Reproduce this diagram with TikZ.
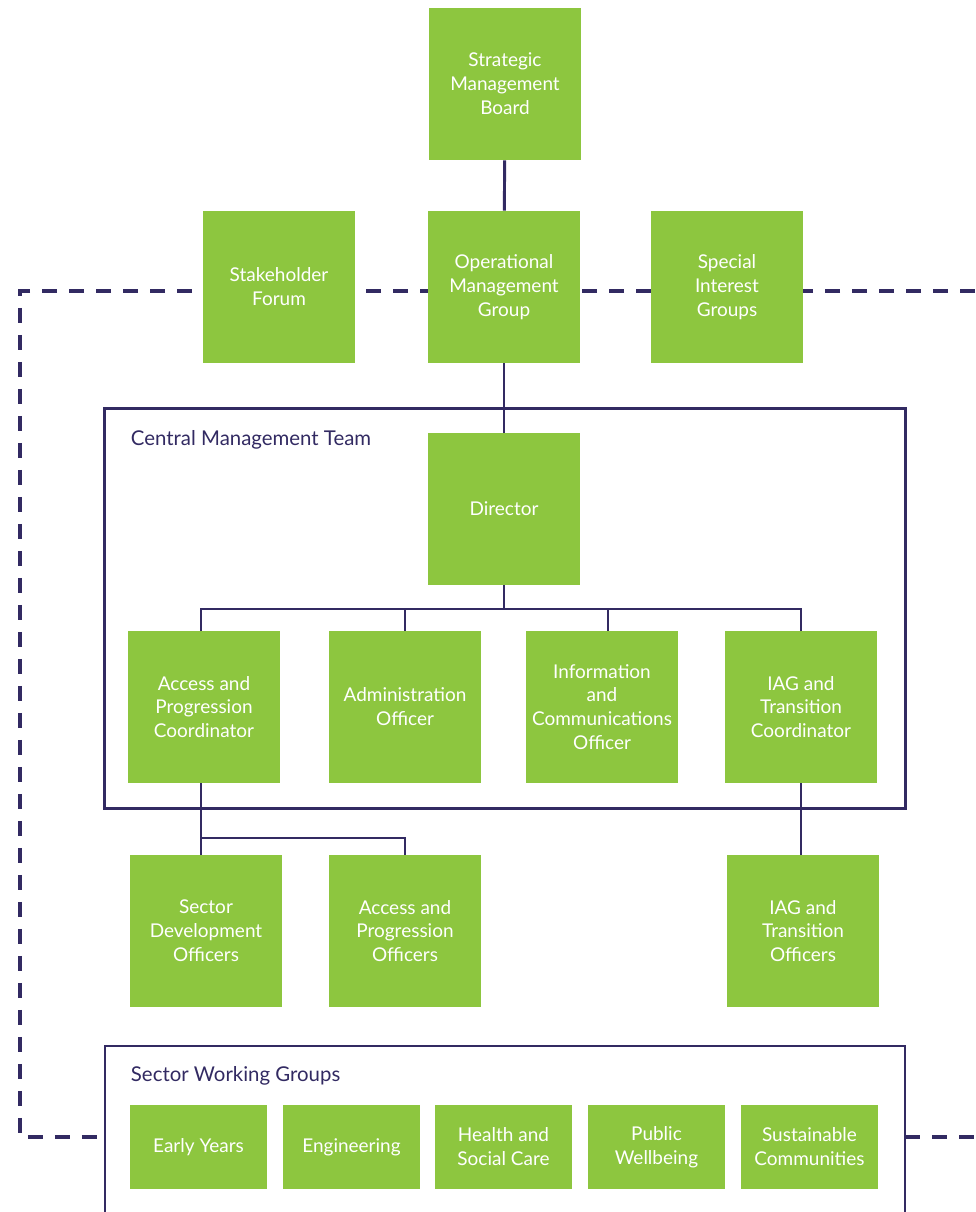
\documentclass[tikz,border=0pt]{standalone}
\usepackage{fontspec}
\setmainfont{Lato}
\usepackage{xcolor}
\usetikzlibrary{positioning, backgrounds}
\definecolor{leafgreen}{HTML}{8DC63F}
\definecolor{inkblue}{HTML}{322A62}
\tikzset{
  role/.style={rectangle, minimum width=3.8cm, minimum height=3.8cm, inner sep=0pt, align=center, fill=leafgreen, text=white, font=\fontsize{13.5}{17}\selectfont},
  sector/.style={role, minimum width=3.425cm, minimum height=2.1cm},
  frame/.style={rectangle, draw=inkblue, line width=2.1pt, inner sep=0pt},
  framelabel/.style={anchor=west, text=inkblue, font=\fontsize{14.5}{17}\selectfont},
  link/.style={draw=inkblue, line width=2.1pt},
  liaison/.style={draw=inkblue, line width=2.9pt, dash pattern=on 10.7pt off 8.5pt}
}

\begin{document}
\begin{tikzpicture}[x=0.025cm, y=-0.025cm]
\useasboundingbox (0,0) rectangle (975,1212);

% dashed liaison line, behind the boxes
\coordinate (dl) at (20,291);
\coordinate (dr) at (975,291);
\coordinate (bl) at (20,1137);
\coordinate (swgw) at (105,1137);
\coordinate (swge) at (905,1137);
\coordinate (br) at (975,1137);
\draw[liaison] (dr) -- (dl) -- (bl) -- (swgw);
\draw[liaison] (swge) -- (br);

% governance
\node[role] (smb) at (505,84) {Strategic\\Management\\Board};
\node[role] (omg) at (504,287) {Operational\\Management\\Group};
\node[role] (sf) at (279,287) {Stakeholder\\Forum};
\node[role] (sig) at (727,287) {Special\\Interest\\Groups};

% central management team
\node[frame, minimum width=20cm, minimum height=9.975cm] (cmt) at (505,608.5) {};
\node[framelabel] (cmtlabel) at (126,440) {Central Management Team};
\node[role] (dir) at (504,509) {Director};
\node[role] (apc) at (204,707) {Access and\\Progression\\Coordinator};
\node[role] (ao) at (405,707) {Administration\\Officer};
\node[role] (ico) at (602,707) {Information\\and\\Communications\\Officer};
\node[role] (iagc) at (801,707) {IAG and\\Transition\\Coordinator};

% officers
\node[role] (sdo) at (206,931) {Sector\\Development\\Officers};
\node[role] (apo) at (405,931) {Access and\\Progression\\Officers};
\node[role] (iago) at (803,931) {IAG and\\Transition\\Officers};

% sector working groups
\draw[link] (105,1212) |- (905,1046) -- (905,1212);
\node[framelabel] (swglabel) at (126,1076) {Sector Working Groups};
\node[sector] (ey) at (198.5,1147) {Early Years};
\node[sector] (eng) at (351.5,1147) {Engineering};
\node[sector] (hsc) at (503.5,1147) {Health and\\Social Care};
\node[sector] (pw) at (656.5,1147) {Public\\Wellbeing};
\node[sector] (sc) at (809.5,1147) {Sustainable\\Communities};

% reporting lines
\coordinate (bus) at (504,609);
\coordinate (split) at (201,838);
\draw[link] (smb) -- (omg);
\draw[link] (omg) -- (dir);
\draw[link] (dir) -- (bus);
\draw[link] ([xshift=-0.075cm]apc.north) |- (bus) -| (iagc.north);
\draw[link] (ao.north) -- (ao.north |- bus);
\draw[link] ([xshift=0.15cm]ico.north) -- ([xshift=0.15cm]ico.north |- bus);
\draw[link] ([xshift=-0.075cm]apc.south) -- ([xshift=-0.075cm]apc.south |- sdo.north);
\draw[link] (split) -| (apo.north);
\draw[link] (iagc.south) -- (iagc.south |- iago.north);
\end{tikzpicture}
\end{document}
